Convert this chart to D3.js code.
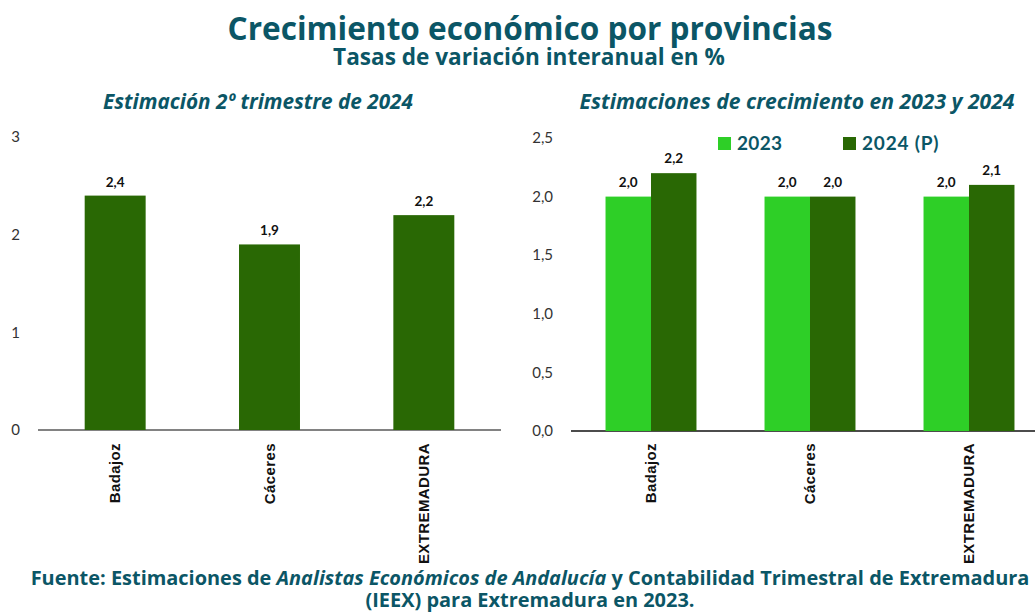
<!DOCTYPE html>
<html>
<head>
<meta charset="utf-8">
<script src="https://cdn.jsdelivr.net/npm/d3@7"></script>
<style>
  body { margin: 0; background: #fff; }
  svg { display: block; font-family: Lato, "Open Sans", sans-serif; }
</style>
</head>
<body>
<svg id="chart" width="1035" height="613"></svg>
<script>
// --- data ---
const categories = ["Badajoz", "Cáceres", "EXTREMADURA"];
const q2Values = [2.4, 1.9, 2.2];
const values2023 = [2.0, 2.0, 2.0];
const values2024 = [2.2, 2.0, 2.1];
const leftTicks = [0, 1, 2, 3];
const rightTicks = [0, 0.5, 1.0, 1.5, 2.0, 2.5];
const seriesNames = ["2023", "2024 (P)"];

const teal = "#0b5666";
const darkGreen = "#296804";
const lightGreen = "#2ecf27";
const fmt = d3.format(".1f");
const comma = v => fmt(v).replace(".", ",");
const headFont = "'Open Sans', sans-serif";

const svg = d3.select("#chart");

// shrink/grow a text's font size so it spans the wanted width
function fitWidth(sel, width) {
  const node = sel.node();
  const size = parseFloat(sel.attr("font-size"));
  const w = node.getComputedTextLength();
  sel.attr("font-size", (size * width / w).toFixed(2));
}

// --- titles ---
const title = svg.append("text").attr("x", 530).attr("y", 40).attr("text-anchor", "middle")
  .attr("font-family", headFont).attr("font-size", 30).attr("font-weight", 700).attr("fill", teal)
  .text("Crecimiento económico por provincias");
fitWidth(title, 605);
const sub = svg.append("text").attr("x", 529).attr("y", 65).attr("text-anchor", "middle")
  .attr("font-family", headFont).attr("font-size", 20).attr("font-weight", 700).attr("fill", teal)
  .text("Tasas de variación interanual en %");
fitWidth(sub, 392);

const h1 = svg.append("text").attr("x", 258).attr("y", 109).attr("text-anchor", "middle")
  .attr("font-family", headFont).attr("font-size", 18).attr("font-weight", 700)
  .attr("font-style", "italic").attr("fill", teal)
  .text("Estimación 2º trimestre de 2024");
fitWidth(h1, 310);
const h2 = svg.append("text").attr("x", 797).attr("y", 109).attr("text-anchor", "middle")
  .attr("font-family", headFont).attr("font-size", 18).attr("font-weight", 700)
  .attr("font-style", "italic").attr("fill", teal)
  .text("Estimaciones de crecimiento en 2023 y 2024");
fitWidth(h2, 435);

// --- left chart ---
const yL = d3.scaleLinear().domain([0, 3]).range([430, 137]);
const xL = d3.scaleBand().domain(categories).range([38, 501]).paddingInner(0.605).paddingOuter(0.3025);

const left = svg.append("g");
left.append("line").attr("x1", 38).attr("x2", 501).attr("y1", yL(0)).attr("y2", yL(0))
  .attr("stroke", "#595959").attr("stroke-width", 1.5);

left.selectAll(".ytick").data(leftTicks).join("text")
  .attr("x", 20).attr("y", d => yL(d)).attr("dy", "0.35em").attr("text-anchor", "end")
  .attr("font-size", 15).attr("fill", "#333").text(d => d);

left.selectAll("rect").data(categories).join("rect")
  .attr("x", d => xL(d)).attr("width", xL.bandwidth())
  .attr("y", (d, i) => yL(q2Values[i])).attr("height", (d, i) => yL(0) - yL(q2Values[i]))
  .attr("fill", darkGreen);

left.selectAll(".val").data(categories).join("text")
  .attr("x", d => xL(d) + xL.bandwidth() / 2).attr("y", (d, i) => yL(q2Values[i]) - 9)
  .attr("text-anchor", "middle").attr("font-size", 13.5).attr("font-weight", 700).attr("fill", "#111")
  .text((d, i) => comma(q2Values[i]));

left.selectAll(".cat").data(categories).join("text")
  .attr("transform", d => `translate(${xL(d) + xL.bandwidth() / 2 + 5},443) rotate(-90)`)
  .attr("text-anchor", "end").attr("font-family", "'Liberation Sans', Arial, sans-serif")
  .attr("font-size", 15).attr("font-weight", 700).attr("letter-spacing", 0.4).attr("fill", "#111")
  .text(d => d);

// --- right chart ---
const yR = d3.scaleLinear().domain([0, 2.5]).range([431, 138]);
const xR = d3.scaleBand().domain(categories).range([571.5, 1048.5]).paddingInner(0.428).paddingOuter(0.214);
const xSub = d3.scaleBand().domain(seriesNames).range([0, xR.bandwidth()]);

const right = svg.append("g");
right.append("line").attr("x1", 571).attr("x2", 1035).attr("y1", yR(0)).attr("y2", yR(0))
  .attr("stroke", "#111").attr("stroke-width", 1.5);

right.selectAll(".ytick").data(rightTicks).join("text")
  .attr("x", 553).attr("y", d => yR(d)).attr("dy", "0.35em").attr("text-anchor", "end")
  .attr("font-size", 15).attr("fill", "#333").text(d => comma(d));

const seriesData = [values2023, values2024];
const seriesColors = [lightGreen, darkGreen];
seriesNames.forEach((s, si) => {
  right.selectAll(".bar" + si).data(categories).join("rect")
    .attr("x", d => xR(d) + xSub(s)).attr("width", xSub.bandwidth())
    .attr("y", (d, i) => yR(seriesData[si][i])).attr("height", (d, i) => yR(0) - yR(seriesData[si][i]))
    .attr("fill", seriesColors[si]);
  right.selectAll(".val" + si).data(categories).join("text")
    .attr("x", d => xR(d) + xSub(s) + xSub.bandwidth() / 2).attr("y", (d, i) => yR(seriesData[si][i]) - 10)
    .attr("text-anchor", "middle").attr("font-size", 13.5).attr("font-weight", 700).attr("fill", "#111")
    .text((d, i) => comma(seriesData[si][i]));
});

right.selectAll(".cat").data(categories).join("text")
  .attr("transform", d => `translate(${xR(d) + xR.bandwidth() / 2 + 5},443) rotate(-90)`)
  .attr("text-anchor", "end").attr("font-family", "'Liberation Sans', Arial, sans-serif")
  .attr("font-size", 15).attr("font-weight", 700).attr("letter-spacing", 0.4).attr("fill", "#111")
  .text(d => d);

// legend
const legendX = [718, 843];
seriesNames.forEach((s, si) => {
  right.append("rect").attr("x", legendX[si]).attr("y", 137).attr("width", 13).attr("height", 13)
    .attr("fill", seriesColors[si]);
  right.append("text").attr("x", legendX[si] + 19).attr("y", 150)
    .attr("font-size", 19).attr("font-weight", 700).attr("letter-spacing", si ? 0.8 : 0.3)
    .attr("fill", teal).text(s);
});

// --- footer ---
const foot = svg.append("text").attr("x", 530).attr("y", 585).attr("text-anchor", "middle")
  .attr("font-family", headFont).attr("font-size", 17).attr("font-weight", 700).attr("fill", teal);
foot.append("tspan").text("Fuente: Estimaciones de ");
foot.append("tspan").attr("font-style", "italic").text("Analistas Económicos de Andalucía");
foot.append("tspan").text(" y Contabilidad Trimestral de Extremadura");
fitWidth(foot, 1000);
svg.append("text").attr("x", 530).attr("y", 607).attr("text-anchor", "middle")
  .attr("font-family", headFont).attr("font-size", foot.attr("font-size")).attr("font-weight", 700).attr("fill", teal)
  .text("(IEEX) para Extremadura en 2023.");
</script>
</body>
</html>
